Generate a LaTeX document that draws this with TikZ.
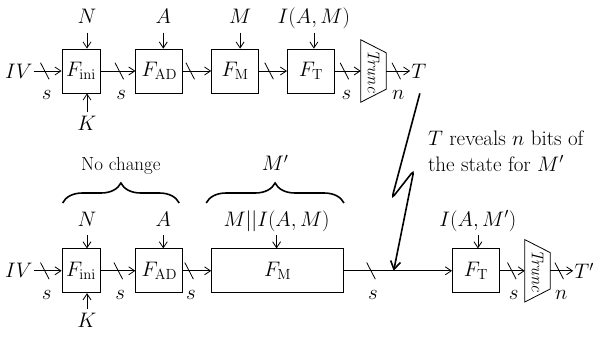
\RequirePackage{fix-cm}
\documentclass[tikz,border=0pt]{standalone}
\usepackage{tikz}
\usetikzlibrary{arrows.meta,positioning,calc,decorations.pathreplacing,decorations.markings}
\newcommand{\diagfont}{\fontsize{21}{26}\selectfont}
\tikzset{
  blk/.style={
    draw, line width=0.8pt, minimum width=47pt, minimum height=44pt, inner sep=2pt
  },
  inlbl/.style={inner sep=3pt, text height=15pt, text depth=6pt},
  arr/.style={-{Straight Barb[length=6pt,width=8pt]}, line width=0.8pt},
  bus/.style={postaction={decorate, decoration={markings,
    mark=at position #1 with {\draw[-, line width=0.8pt] (-4.3pt,8.3pt) -- (4.3pt,-8.3pt);}}}},
  wlbl/.style={xshift=2pt, yshift=-24pt, inner sep=0pt},
  truncbox/.style={minimum width=25pt, minimum height=62pt, inner sep=0pt},
  trunctxt/.style={rotate=-90, inner sep=0pt, font=\fontsize{17}{20}\selectfont\itshape},
  brc/.style={decorate, decoration={brace, amplitude=20pt}, line width=1.6pt},
  bolt/.style={-{Straight Barb[length=8pt,width=10pt]}, line width=1.6pt, rounded corners=4pt},
  note/.style={align=left, inner sep=0pt},
}

\begin{document}
\begin{tikzpicture}[font=\diagfont]
    \useasboundingbox (0,0) rectangle (598pt,-338pt);
    % first run
    \node[blk, minimum width=38pt] (ini) at (81pt,-71pt) {$F_{\mathrm{ini}}$};
    \node[inner sep=1pt, left=28pt of ini] (iv) {$IV$};
    \node[blk, right=35pt of ini] (ad) {$F_{\mathrm{AD}}$};
    \node[blk, right=28pt of ad] (m) {$F_{\mathrm{M}}$};
    \node[blk, right=28pt of m] (t) {$F_{\mathrm{T}}$};
    \node[truncbox, right=26pt of t] (tr) {};
    \node[trunctxt] (trt) at (tr) {Trunc};
    \node[inner sep=1pt, right=24pt of tr] (tag) {$T$};
    \node[inlbl, above=16pt of ini, xshift=6pt] (n) {$N$};
    \node[inlbl, below=19pt of ini, xshift=6pt] (k) {$K$};
    \node[inlbl, above=16pt of ad, xshift=4pt] (a) {$A$};
    \node[inlbl, above=16pt of m, xshift=5pt] (msg) {$M$};
    \node[inlbl, above=16pt of t, xshift=3pt] (iam) {$I(A,M)$};
    \draw[arr, bus=.4] (iv) -- node[wlbl, pos=.4] (w1) {$s$} (ini);
    \draw[arr, bus=.54] (ini) -- node[wlbl, pos=.54] (w2) {$s$} (ad);
    \draw[arr, bus=.25] (ad) -- (m);
    \draw[arr, bus=.36] (m) -- (t);
    \draw[arr, bus=.37] (t) -- node[wlbl, pos=.37] (w3) {$s$} (tr);
    \draw[arr, bus=.42] (tr) -- node[wlbl, pos=.42] (w4) {$n$} (tag);
    \foreach \src/\dst in {n/ini, a/ad, msg/m, iam/t}
      \draw[arr] (\src) -- (\src |- \dst.north);
    \draw[arr] (k) -- (k |- ini.south);

    % second run, forged message
    \node[blk, minimum width=38pt, below=155pt of ini] (ini2) {$F_{\mathrm{ini}}$};
    \node[inner sep=1pt, left=28pt of ini2] (iv2) {$IV$};
    \node[blk, right=35pt of ini2] (ad2) {$F_{\mathrm{AD}}$};
    \node[blk, minimum width=132pt, right=28pt of ad2] (m2) {$F_{\mathrm{M}}$};
    \node[blk, right=108pt of m2] (t2) {$F_{\mathrm{T}}$};
    \node[truncbox, right=25pt of t2] (tr2) {};
    \node[trunctxt] (trt2) at (tr2) {Trunc};
    \node[inner sep=1pt, right=23pt of tr2] (tag2) {$T'$};
    \node[inlbl, above=13pt of ini2, xshift=6pt] (n2) {$N$};
    \node[inlbl, below=16pt of ini2, xshift=6pt] (k2) {$K$};
    \node[inlbl, above=13pt of ad2, xshift=4pt] (a2) {$A$};
    \node[inlbl, above=13pt of m2, xshift=-1pt] (mi) {$M||I(A,M)$};
    \node[inlbl, above=13pt of t2, xshift=2pt] (iam2) {$I(A,M')$};
    \draw[arr, bus=.4] (iv2) -- node[wlbl, pos=.4] (w5) {$s$} (ini2);
    \draw[arr, bus=.51] (ini2) -- node[wlbl, pos=.51] (w6) {$s$} (ad2);
    \draw[arr, bus=.21] (ad2) -- node[wlbl, pos=.21] (w7) {$s$} (m2);
    \draw[arr, bus=.25] (m2) -- node[wlbl, pos=.25] (w8) {$s$} (t2);
    \draw[arr, bus=.48] (t2) -- node[wlbl, pos=.48] (w9) {$s$} (tr2);
    \draw[arr, bus=.39] (tr2) -- node[wlbl, pos=.39] (w10) {$n$} (tag2);
    \foreach \src/\dst in {n2/ini2, a2/ad2, mi/m2, iam2/t2}
      \draw[arr] (\src) -- (\src |- \dst.north);
    \draw[arr] (k2) -- (k2 |- ini2.south);

    % truncation blocks
    \foreach \b in {tr, tr2}
      \draw[line width=0.8pt] (\b.north west) -- ([yshift=-13pt]\b.north east)
        -- ([yshift=13pt]\b.south east) -- (\b.south west) -- cycle;

    % braces
    \coordinate (ncl) at ($(ini2.west |- n2.north)+(1pt,5pt)$);
    \coordinate (ncr) at ($(ad2.east |- n2.north)+(-4pt,5pt)$);
    \coordinate (mpl) at ($(m2.west |- mi.north)+(-5pt,5pt)$);
    \coordinate (mpr) at ($(m2.east |- mi.north)+(0pt,5pt)$);
    \draw[brc] (ncl) -- (ncr);
    \draw[brc] (mpl) -- (mpr);
    \node[inlbl, above=23pt, font=\fontsize{19}{23}\selectfont] (nochg) at ($(ncl)!.5!(ncr)$) {No change};
    \node[inlbl, above=23pt] (mprime) at ($(mpl)!.5!(mpr)$) {$M'$};

    % leaked tag
    \coordinate (hit) at ($(m2.east)!.46!(t2.west)$);
    \coordinate (boltstart) at ($(tag.south)+(1pt,-14pt)$);
    \draw[bolt] (boltstart) -- ++(-28pt,-105pt) -- ++(22pt,28pt) -- (hit);
    \node[note, anchor=north west] (note) at ($(tag.south)+(9pt,-51pt)$)
      {$T$ reveals $n$ bits of\\the state for $M'$};
\end{tikzpicture}
\end{document}
